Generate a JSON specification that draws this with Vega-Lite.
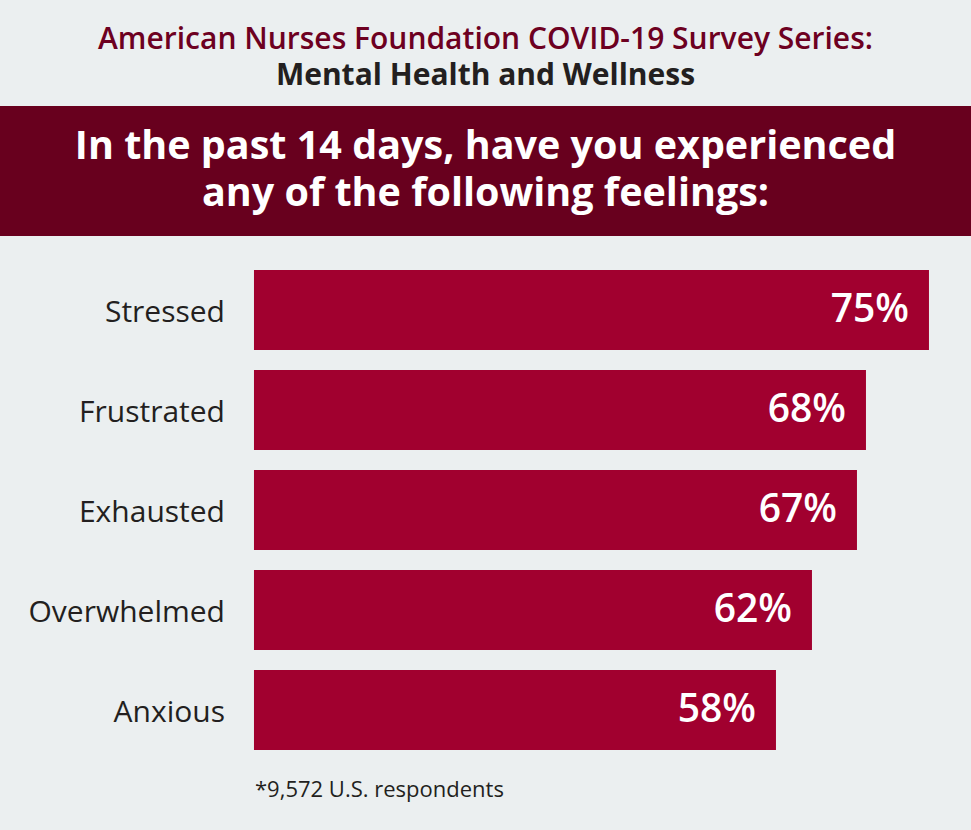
{
  "$schema": "https://vega.github.io/schema/vega-lite/v6.json",
  "background": "#ebeff0",
  "padding": {"top": 25, "left": 0, "right": 0, "bottom": 30},
  "spacing": 24,
  "title": {
    "text": "American Nurses Foundation COVID-19 Survey Series:",
    "subtitle": "Mental Health and Wellness",
    "anchor": "middle",
    "font": "Open Sans",
    "fontSize": 30,
    "fontWeight": 600,
    "color": "#6d0021",
    "subtitleFont": "Open Sans",
    "subtitleFontSize": 30,
    "subtitleFontWeight": 700,
    "subtitleColor": "#231f20",
    "subtitlePadding": 6,
    "offset": 15
  },
  "config": {"view": {"stroke": null}, "font": "Open Sans"},
  "vconcat": [
    {
      "width": 971,
      "height": 130,
      "data": {"values": [{"question": "In the past 14 days, have you experienced\nany of the following feelings:"}]},
      "layer": [
        {"mark": {"type": "rect", "color": "#68001e"}, "encoding": {}},
        {
          "mark": {"type": "text", "color": "white", "font": "Open Sans", "fontSize": 39.5, "fontWeight": 700, "lineBreak": "\n", "lineHeight": 47, "align": "center", "baseline": "middle", "dy": -24},
          "encoding": {"text": {"field": "question", "type": "nominal"}}
        }
      ]
    },
    {
      "width": 971,
      "height": 500,
      "data": {"values": [
        {"feeling": "Stressed", "pct": 75, "label": "75%"},
        {"feeling": "Frustrated", "pct": 68, "label": "68%"},
        {"feeling": "Exhausted", "pct": 67, "label": "67%"},
        {"feeling": "Overwhelmed", "pct": 62, "label": "62%"},
        {"feeling": "Anxious", "pct": 58, "label": "58%"}
      ]},
      "encoding": {
        "y": {"field": "feeling", "type": "nominal", "sort": null, "scale": {"paddingInner": 0.2, "paddingOuter": 0.1}, "axis": null},
        "x": {"field": "pct", "type": "quantitative", "scale": {"domain": [-28.22, 79.67], "nice": false}, "axis": null}
      },
      "layer": [
        {"mark": {"type": "bar", "color": "#a1002f"}},
        {"mark": {"type": "text", "align": "right", "dx": -20, "color": "white", "font": "Open Sans", "fontSize": 39, "fontWeight": 600}, "encoding": {"text": {"field": "label", "type": "nominal"}}},
        {"mark": {"type": "text", "align": "right", "dx": -29, "dy": 3, "color": "#231f20", "font": "Open Sans", "fontSize": 30, "fontWeight": 400}, "encoding": {"x": {"datum": 0}, "text": {"field": "feeling", "type": "nominal"}}}
      ],
      "title": {"text": "*9,572 U.S. respondents", "orient": "bottom", "anchor": "start", "dx": 255, "font": "Open Sans", "fontSize": 22, "fontWeight": 400, "color": "#231f20", "offset": 20, "frame": "group"}
    }
  ]
}
